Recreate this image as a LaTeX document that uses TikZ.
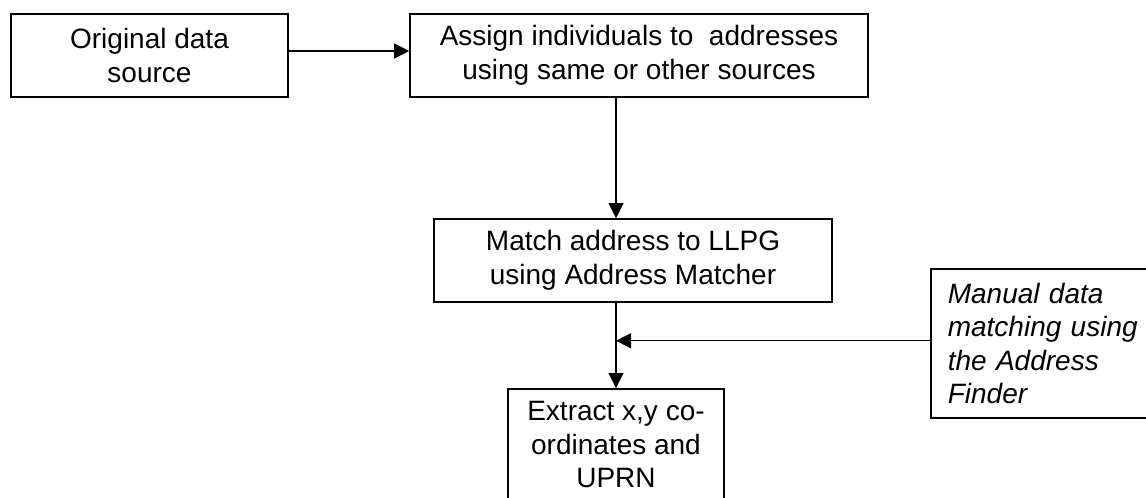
\documentclass[tikz,border=0pt]{standalone}
\usepackage{fontspec}
\setmainfont{Liberation Sans}
\usetikzlibrary{arrows.meta,positioning}

\begin{document}
\begin{tikzpicture}[x=1pt,y=-1pt,
    every node/.style={font=\fontsize{28}{33.5}\selectfont},
    box/.style={draw,line width=1.6pt,inner sep=0pt,align=center},
    arr/.style={-{Triangle[length=15pt,width=15pt]},line width=1.2pt}]

  \useasboundingbox (0,0) rectangle (1146,498);
  \clip (0,0) rectangle (1146,498);

  % Top row
  \node[box,minimum width=277pt,minimum height=83pt] (orig) at (149.5,55.5)
    {Original data\\source};
  \node[box,minimum width=458pt,minimum height=83pt] (assign) at (639,55.5)
    {Assign individuals to\ \ addresses\\using same or other sources};

  % Matching step
  \node[box,minimum width=398pt,minimum height=83pt] (match) at (633,260.5)
    {Match address to LLPG\\using Address Matcher};

  % Manual matching (right, runs off the page)
  \node[box,anchor=north west,align=left,text width=200pt,inner xsep=17pt,
        minimum height=149pt,font=\fontsize{28}{33.5}\selectfont\itshape]
    (manual) at (930,268)
    {Manual data\\matching using\\the Address\\Finder};

  % Output (runs off the bottom)
  \node[box,anchor=north,minimum width=216pt,minimum height=112pt] (extract) at (616,388)
    {Extract x,y co-\\ordinates and\\UPRN};

  \coordinate (spine) at (616,0);

  % Arrows
  \draw[arr] ([yshift=4.5pt]orig.east) -- ([yshift=4.5pt]assign.west);
  \draw[arr] (spine |- assign.south) -- (spine |- match.north);
  \draw[arr] (spine |- match.south) -- (extract.north);
  \draw[arr] ([yshift=2.5pt]manual.west) -- ([yshift=2.5pt]manual.west -| spine);

\end{tikzpicture}
\end{document}
